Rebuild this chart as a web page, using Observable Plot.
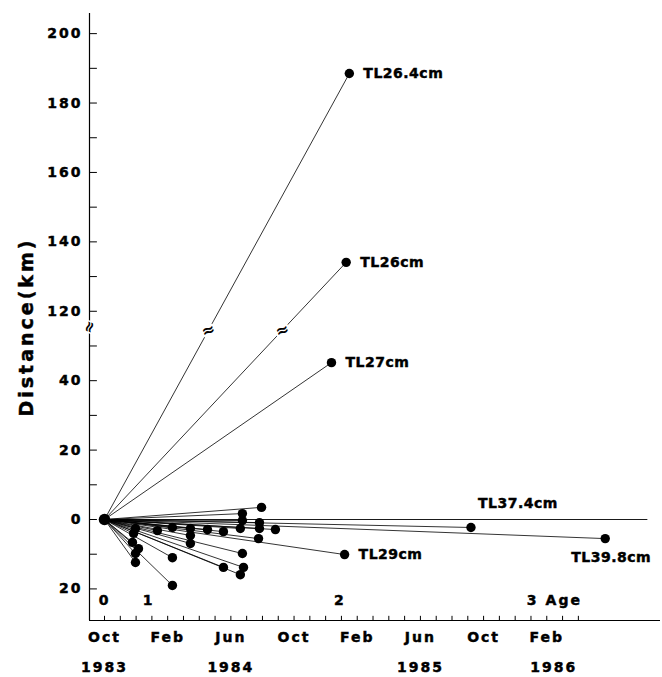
<!DOCTYPE html>
<html>
<head>
<meta charset="utf-8">
<script src="https://cdn.jsdelivr.net/npm/d3@7"></script>
<script src="https://cdn.jsdelivr.net/npm/@observablehq/plot@0.6"></script>
<style>
  html, body { margin: 0; padding: 0; background: #fff; }
  #chart svg { display: block; }
</style>
</head>
<body>
<div id="chart"></div>
<script>
// ---- data (months since Oct 1983; distance in km, negative = other direction) ----
const months = [1.96, 1.84, 1.77, 2.15, 1.96, 1.96, 3.35, 4.3, 4.3, 4.3,
  5.44, 5.44, 5.44, 6.52, 7.53, 8.73, 8.73, 8.6, 9.94, 9.81, 9.81, 10.82,
  9.75, 8.73, 7.53, 8.8, 8.6,
  14.37, 15.3, 15.5, 15.2, 23.2, 31.7];
const dists = [-2.6, -4.0, -6.6, -8.4, -9.8, -12.4, -3.2, -2.3, -11.0, -19.0,
  -2.6, -4.6, -6.9, -2.9, -3.5, 1.7, -0.3, -2.6, 3.5, -0.9, -2.6, -2.9,
  -5.5, -9.8, -13.8, -13.8, -15.9,
  45.2, 134.1, 188.5, -10.1, -2.3, -5.5];
const tags = ["", "", "", "", "", "", "", "", "", "",
  "", "", "", "", "", "", "", "", "", "", "", "",
  "", "", "", "", "",
  "TL27cm", "TL26cm", "TL26.4cm", "TL29cm", "TL37.4cm", "TL39.8cm"];

const monthTicks = [0, 4, 8, 12, 16, 20, 24, 28];
const monthNames = ["Oct", "Feb", "Jun", "Oct", "Feb", "Jun", "Oct", "Feb"];
const yearTicks = [0, 8, 20, 28];
const yearNames = ["1983", "1984", "1985", "1986"];
const ageAt = [0, 2.8, 14.9, 27.1];
const ageNames = ["0", "1", "2", "3"];
const yMajor = [-20, 0, 20, 40, 120, 140, 160, 180, 200];
const yMinor = [-10, 10, 30, 50, 130, 150, 170, 190];

// ---- broken axis: values above the break are shifted down by 60 km ----
const SHIFT = 60;
const tr = v => (v > 90 ? v - SHIFT : v);
const BREAK_T = 54.5;

const pts = months.map((m, i) => ({m, d: dists[i], t: tr(dists[i]), tag: tags[i]}));
const broken = pts.filter(p => p.d > 90).map(p => ({m: p.m * BREAK_T / p.t, t: BREAK_T}));

const X0 = -0.95, X1 = 35.2, Y0 = -29.1, Y1 = 145.8;

const chart = Plot.plot({
  width: 662,
  height: 677,
  marginLeft: 89,
  marginRight: 2,
  marginTop: 13,
  marginBottom: 57,
  style: {fontFamily: "'DejaVu Sans', sans-serif", fontWeight: "bold", background: "#fff", color: "#000"},
  x: {type: "linear", domain: [X0, X1], axis: null},
  y: {type: "linear", domain: [Y0, Y1], axis: null},
  marks: [
    // axis lines
    Plot.ruleX([X0], {y1: Y0, y2: Y1, stroke: "#000", strokeWidth: 1.2}),
    Plot.ruleY([Y0], {x1: X0, x2: X1, stroke: "#000", strokeWidth: 1.2}),
    // y ticks (inward)
    Plot.ruleY(yMajor.concat(yMinor).map(tr), {x1: X0, x2: X0 + 0.5, stroke: "#000", strokeWidth: 1}),
    // x ticks (inward, monthly)
    Plot.ruleX(d3.range(0, 31), {y1: Y0, y2: Y0 + 1.2, stroke: "#000", strokeWidth: 1}),
    // y tick labels
    Plot.axisY(yMajor.map(tr), {label: null, tickSize: 0, tickPadding: 7, fontSize: 14, fontWeight: "bold",
      tickFormat: t => String(Math.abs(t > 50 ? t + SHIFT : t))}),
    // x tick labels
    Plot.axisX(monthTicks, {label: null, tickSize: 0, tickPadding: 12, fontSize: 14, fontWeight: "bold",
      tickFormat: d => monthNames[monthTicks.indexOf(d)]}),
    Plot.axisX(yearTicks, {label: null, tickSize: 0, tickPadding: 42, fontSize: 14, fontWeight: "bold",
      tickFormat: d => yearNames[yearTicks.indexOf(d)]}),
    // y axis title
    Plot.text(["Distance(km)"], {frameAnchor: "left", textAnchor: "middle", dx: -63, dy: 10, rotate: -90,
      fontSize: 19, fontWeight: "bold"}),
    // age labels
    Plot.text(ageNames, {x: (d, i) => ageAt[i], y: -23.3, text: d => d, fontSize: 14, fontWeight: "bold"}),
    Plot.text(["Age"], {x: ageAt[3], y: -23.3, dx: 13, textAnchor: "start", fontSize: 14, fontWeight: "bold"}),
    // zero reference line
    Plot.ruleY([0], {x1: 0, x2: 34.4, stroke: "#000", strokeWidth: 0.9}),
    // radiating tracks
    Plot.link(pts, {x1: () => 0, y1: () => 0, x2: "m", y2: "t", stroke: "#000", strokeWidth: 0.8}),
    // break marks on long tracks and on the axis
    Plot.text(broken, {x: "m", y: "t", text: () => "≈", fontSize: 16, stroke: "#fff", strokeWidth: 4, fill: "#000", rotate: -20}),
    Plot.text([0], {x: X0, y: 55.5, text: () => "≈", fontSize: 15, stroke: "#fff", strokeWidth: 3, fill: "#000", rotate: -70}),
    // points
    Plot.dot(pts, {x: "m", y: "t", r: 4.7, fill: "#000"}),
    Plot.dot([0], {x: () => 0, y: () => 0, r: 5.8, fill: "#000"}),
    // tags
    Plot.text(pts.filter(p => ["TL27cm", "TL26cm", "TL26.4cm", "TL29cm"].includes(p.tag)),
      {x: "m", y: "t", text: "tag", textAnchor: "start", dx: 14, fontSize: 14, fontWeight: "bold"}),
    Plot.text(pts.filter(p => p.tag === "TL37.4cm"),
      {x: "m", y: "t", text: "tag", textAnchor: "start", dx: 7, dy: -24, fontSize: 14, fontWeight: "bold"}),
    Plot.text(pts.filter(p => p.tag === "TL39.8cm"),
      {x: "m", y: "t", text: "tag", textAnchor: "middle", dx: 6, dy: 19, fontSize: 14, fontWeight: "bold"})
  ]
});

// heavier, letter-spaced type like the scanned original
d3.select(chart).selectAll("text").each(function () {
  const s = this.textContent;
  if (s === "≈") return;
  const el = d3.select(this);
  el.style("stroke", "#000").style("stroke-width", "0.45px");
  if (s.startsWith("TL")) el.style("letter-spacing", "0.5px");
  else if (s === "Distance(km)") el.style("letter-spacing", "3px");
  else el.style("letter-spacing", "2px");
  if (s === "1986") el.attr("dx", 7);
});
document.getElementById("chart").appendChild(chart);
</script>
</body>
</html>
